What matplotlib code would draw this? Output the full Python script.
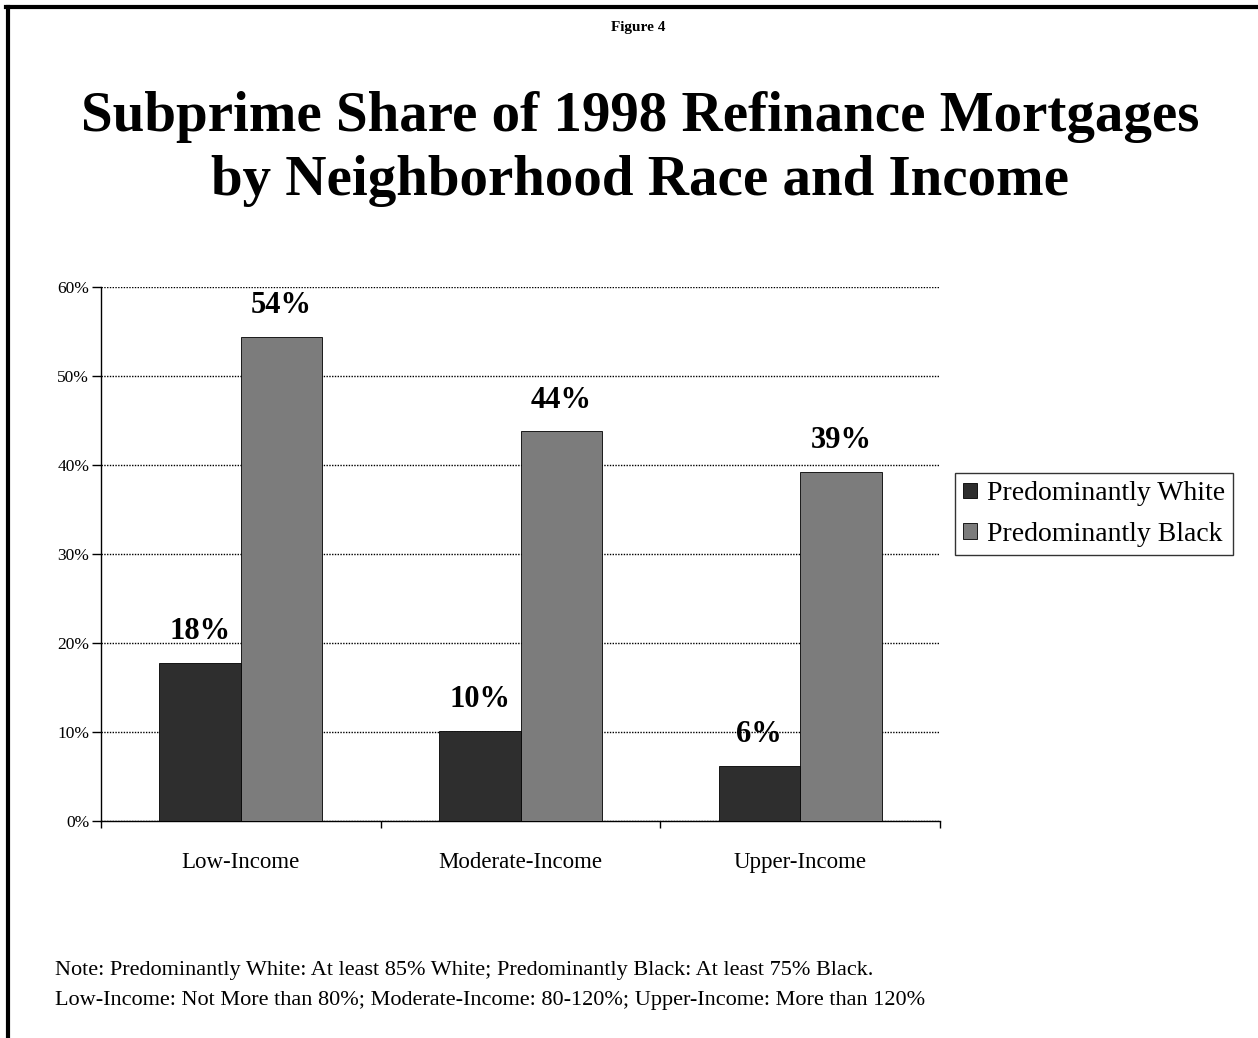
import matplotlib.pyplot as plt
import numpy as np
from matplotlib.lines import Line2D
from matplotlib.patches import Patch

plt.rcParams["font.family"] = ["Liberation Serif", "DejaVu Serif"]

CATEGORIES = ["Low-Income", "Moderate-Income", "Upper-Income"]
SERIES_NAMES = ["Predominantly White", "Predominantly Black"]
WHITE_SHARE = [17.8, 10.1, 6.2]
BLACK_SHARE = [54.4, 43.8, 39.2]
WHITE_LABELS = ["18%", "10%", "6%"]
BLACK_LABELS = ["54%", "44%", "39%"]
Y_TICKS = [0, 10, 20, 30, 40, 50, 60]
TITLE = "Subprime Share of 1998 Refinance Mortgages\nby Neighborhood Race and Income"
NOTES = [
	"Note: Predominantly White: At least 85% White; Predominantly Black: At least 75% Black.",
	"Low-Income: Not More than 80%; Moderate-Income: 80-120%; Upper-Income: More than 120%",
]

COLORS = ("#2e2e2e", "#7c7c7c")
W, H = 1258, 1038


def main() -> None:
	fig = plt.figure(figsize=(W / 100, H / 100), dpi=100)

	# page frame (top and left edges only, as in the scan)
	fig.add_artist(Line2D([6 / W, 1.0], [1 - 7 / H, 1 - 7 / H], color="black", lw=3))
	fig.add_artist(Line2D([8 / W, 8 / W], [0.0, 1 - 7 / H], color="black", lw=3))

	fig.text(638 / W, 1 - 28 / H, "Figure 4", ha="center", va="center", fontsize=11, fontweight="bold")
	fig.text(640 / W, 1 - 149 / H, TITLE, ha="center", va="center", fontsize=41,
		fontweight="bold", linespacing=1.32)

	left, right, top, bottom = 101, 940, 287, 821
	ax = fig.add_axes([left / W, 1 - bottom / H, (right - left) / W, (bottom - top) / H])

	x = np.arange(len(CATEGORIES))
	width = 0.292
	bw = ax.bar(x - width / 2, WHITE_SHARE, width, color=COLORS[0], edgecolor="black", lw=0.6, zorder=3)
	bb = ax.bar(x + width / 2, BLACK_SHARE, width, color=COLORS[1], edgecolor="black", lw=0.6, zorder=3)

	for bars, labels in ((bw, WHITE_LABELS), (bb, BLACK_LABELS)):
		for rect, lab in zip(bars, labels):
			ax.text(rect.get_x() + rect.get_width() / 2, rect.get_height() + 3.5, lab,
				ha="center", va="center", fontsize=22, fontweight="bold", zorder=4)

	ax.set_xlim(-0.5, len(CATEGORIES) - 0.5)
	ax.set_ylim(0, 60)
	ax.set_yticks(Y_TICKS)
	ax.set_yticklabels([f"{t}%" for t in Y_TICKS], fontsize=12.5)
	ax.set_xticks(x)
	ax.set_xticklabels(CATEGORIES, fontsize=16.5)
	ax.set_xticks(np.arange(len(CATEGORIES) + 1) - 0.5, minor=True)
	ax.tick_params(axis="x", which="major", length=0, pad=22)
	ax.tick_params(axis="x", which="minor", length=5, width=1, direction="out")
	ax.tick_params(axis="y", length=6.5, width=1, direction="out", pad=2)

	ax.grid(axis="y", color="black", linestyle=(0, (1, 1)), lw=1, zorder=0)
	for side in ("top", "right"):
		ax.spines[side].set_visible(False)
	for side in ("left", "bottom"):
		ax.spines[side].set_linewidth(1)

	handles = [Patch(facecolor=c, edgecolor="black", lw=0.6) for c in COLORS]
	fig.legend(handles, SERIES_NAMES, loc="upper left",
		bbox_to_anchor=(955 / W, 1 - 473 / H), fontsize=20, frameon=True, fancybox=False,
		edgecolor="black", handlelength=0.5, handleheight=0.5, handletextpad=0.35,
		borderpad=0.3, labelspacing=0.55, borderaxespad=0)

	fig.text(55 / W, 1 - 970 / H, NOTES[0], ha="left", va="center", fontsize=16)
	fig.text(55 / W, 1 - 1000 / H, NOTES[1], ha="left", va="center", fontsize=16)

	fig.savefig("out.png", dpi=100)


if __name__ == "__main__":
	main()
